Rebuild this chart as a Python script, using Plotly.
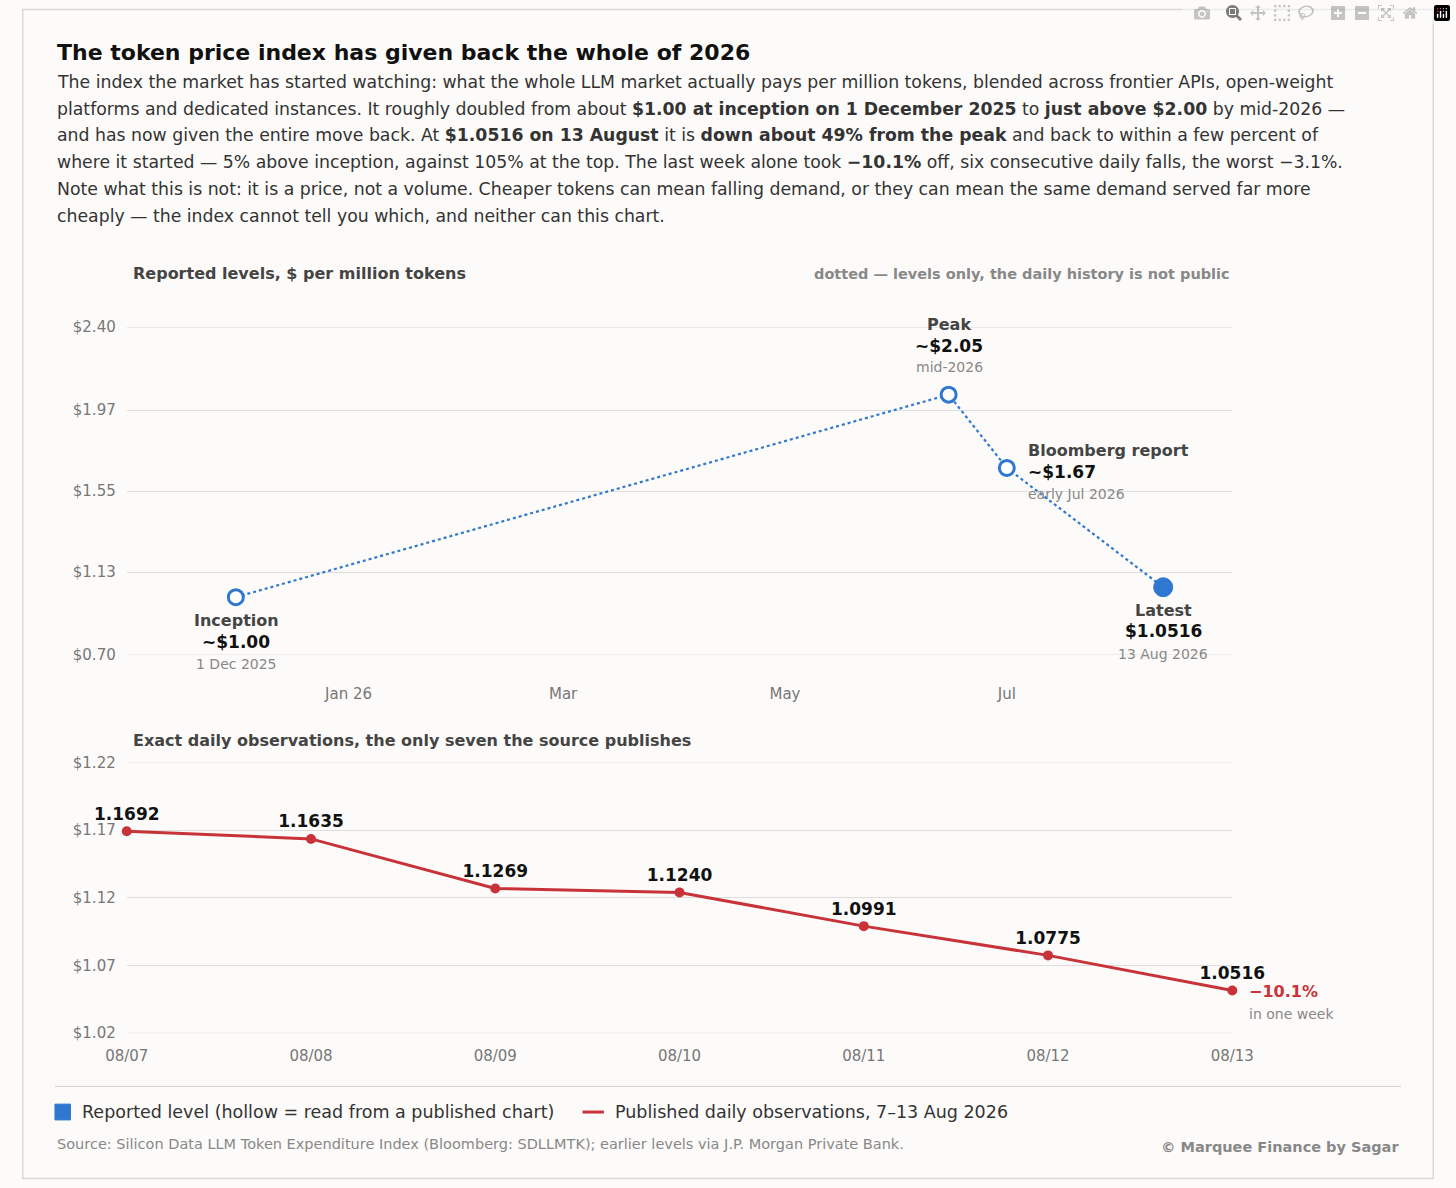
import plotly.graph_objects as go

W, H = 1456, 1188

# reported levels (top panel)
lvl_dates = ["2025-12-01", "2026-06-15", "2026-07-01", "2026-08-13"]
lvl_values = [1.00, 2.05, 1.67, 1.0516]
lvl_hollow = [True, True, True, False]

# daily observations (bottom panel)
day_labels = ["08/07", "08/08", "08/09", "08/10", "08/11", "08/12", "08/13"]
day_values = [1.1692, 1.1635, 1.1269, 1.1240, 1.0991, 1.0775, 1.0516]

top_ticks = [0.70, 1.13, 1.55, 1.97, 2.40]
bot_ticks = [1.02, 1.07, 1.12, 1.17, 1.22]

BLUE = "#2F77CF"
RED = "#C8333A"
FONT = "DejaVu Sans"


def px(x, y):
    return x / W, 1 - y / H


fig = go.Figure()

fig.add_trace(go.Scatter(
    x=lvl_dates, y=lvl_values, mode="lines", xaxis="x", yaxis="y",
    line=dict(color=BLUE, width=2.2, dash="dot"), showlegend=False, hoverinfo="skip"))
fig.add_trace(go.Scatter(
    x=[d for d, h in zip(lvl_dates, lvl_hollow) if h],
    y=[v for v, h in zip(lvl_values, lvl_hollow) if h],
    mode="markers", xaxis="x", yaxis="y", showlegend=False,
    marker=dict(size=15, color="white", line=dict(color=BLUE, width=3))))
fig.add_trace(go.Scatter(
    x=[d for d, h in zip(lvl_dates, lvl_hollow) if not h],
    y=[v for v, h in zip(lvl_values, lvl_hollow) if not h],
    mode="markers", xaxis="x", yaxis="y", showlegend=False,
    marker=dict(size=19, color=BLUE, line=dict(color=BLUE, width=1))))

fig.add_trace(go.Scatter(
    x=list(range(len(day_values))), y=day_values, mode="lines+markers+text",
    xaxis="x2", yaxis="y2", showlegend=False,
    line=dict(color=RED, width=3), marker=dict(size=10, color=RED),
    text=[f"{v:.4f}" for v in day_values], textposition="top center",
    textfont=dict(size=17, color="#111", family=FONT, weight="bold"),
    cliponaxis=False))

x0, x1 = px(108, 0)[0], px(1248, 0)[0]
axis_common = dict(showline=False, zeroline=False, ticks="",
                   tickfont=dict(size=15, color="#777"))
fig.update_layout(
    width=W, height=H, margin=dict(l=0, r=0, t=0, b=0),
    paper_bgcolor="#FCFBF9", plot_bgcolor="#FCFBF9",
    font=dict(family=FONT, color="#333"),
    xaxis=dict(domain=[x0, x1], range=["2025-11-01", "2026-09-01"],
               tickvals=["2026-01-01", "2026-03-01", "2026-05-01", "2026-07-01"],
               ticktext=["Jan 26", "Mar", "May", "Jul"], showgrid=False,
               ticklabelstandoff=28, **axis_common),
    yaxis=dict(domain=[1 - 656 / H, 1 - 323 / H], range=[0.70, 2.40],
               tickvals=top_ticks, ticktext=[f"${t:.2f}" for t in top_ticks],
               gridcolor="#DDDDDD", ticklabelstandoff=10, **axis_common),
    xaxis2=dict(domain=[x0, x1], range=[0, 6], anchor="y2",
                tickvals=list(range(7)), ticktext=day_labels, showgrid=False,
                ticklabelstandoff=12, **axis_common),
    yaxis2=dict(domain=[1 - 1040 / H, 1 - 765 / H], range=[1.02, 1.22], anchor="x2",
                tickvals=bot_ticks, ticktext=[f"${t:.2f}" for t in bot_ticks],
                gridcolor="#DDDDDD", ticklabelstandoff=10, **axis_common),
)

ann = []


def text(x, y, s, size=17, color="#333", xanchor="left"):
    ax, ay = px(x, y)
    ann.append(dict(x=ax, y=ay, xref="paper", yref="paper", text=s, showarrow=False,
                    xanchor=xanchor, yanchor="middle", align=xanchor,
                    font=dict(size=size, color=color, family=FONT)))


text(34, 44, "<b>The token price index has given back the whole of 2026</b>", 22, "#111")
body = [
    "The index the market has started watching: what the whole LLM market actually pays per million tokens, blended across frontier APIs, open-weight",
    "platforms and dedicated instances. It roughly doubled from about <b>$1.00 at inception on 1 December 2025</b> to <b>just above $2.00</b> by mid-2026 —",
    "and has now given the entire move back. At <b>$1.0516 on 13 August</b> it is <b>down about 49% from the peak</b> and back to within a few percent of",
    "where it started — 5% above inception, against 105% at the top. The last week alone took <b>−10.1%</b> off, six consecutive daily falls, the worst −3.1%.",
    "Note what this is not: it is a price, not a volume. Cheaper tokens can mean falling demand, or they can mean the same demand served far more",
    "cheaply — the index cannot tell you which, and neither can this chart.",
]
for i, line in enumerate(body):
    text(34, 74 + i * 27.2, line, 17.3, "#333")

text(112, 269, "<b>Reported levels, $ per million tokens</b>", 16, "#444")
text(1248, 269, "<b>dotted — levels only, the daily history is not public</b>", 14.5, "#888", "right")
text(112, 743, "<b>Exact daily observations, the only seven the source publishes</b>", 16, "#444")

# point labels, top panel
text(221, 621, "<b>Inception</b>", 16, "#444", "center")
text(221, 643, "<b>~$1.00</b>", 17, "#111", "center")
text(221, 665, "1 Dec 2025", 14, "#888", "center")
text(956, 320, "<b>Peak</b>", 16, "#444", "center")
text(956, 342, "<b>~$2.05</b>", 17, "#111", "center")
text(956, 364, "mid-2026", 14, "#888", "center")
text(1035, 448, "<b>Bloomberg report</b>", 16, "#444")
text(1035, 470, "<b>~$1.67</b>", 17, "#111")
text(1035, 492, "early Jul 2026", 14, "#888")
text(1177, 611, "<b>Latest</b>", 16, "#444", "center")
text(1177, 632, "<b>$1.0516</b>", 17, "#111", "center")
text(1177, 655, "13 Aug 2026", 14, "#888", "center")

text(1263, 998, "<b>−10.1%</b>", 16, RED)
text(1263, 1020, "in one week", 14, "#888")

# legend
text(60, 1120, "Reported level (hollow = read from a published chart)", 17.5, "#333")
text(609, 1120, "Published daily observations, 7–13 Aug 2026", 17.5, "#333")
text(34, 1152, "Source: Silicon Data LLM Token Expenditure Index (Bloomberg: SDLLMTK); earlier levels via J.P. Morgan Private Bank.", 14.5, "#888")
text(1422, 1156, "<b>© Marquee Finance by Sagar</b>", 14.5, "#888", "right")

shapes = [
    dict(type="rect", xref="paper", yref="paper", x0=0.0005, x1=0.9995, y0=0.0005, y1=0.9995,
         line=dict(color="#D8D8D8", width=1.5)),
    dict(type="line", xref="paper", yref="paper", x0=34 / W, x1=1422 / W,
         y0=1 - 1094 / H, y1=1 - 1094 / H, line=dict(color="#D0D0D0", width=1)),
    dict(type="rect", xref="paper", yref="paper", x0=34 / W, x1=50 / W,
         y0=1 - 1128 / H, y1=1 - 1112 / H, fillcolor=BLUE, line=dict(color=BLUE, width=1)),
    dict(type="line", xref="paper", yref="paper", x0=578 / W, x1=600 / W,
         y0=1 - 1120 / H, y1=1 - 1120 / H, line=dict(color=RED, width=3)),
]
# edge gridlines that plotly drops at the range limits
for ax, val in [("y", top_ticks[0]), ("y", top_ticks[-1]), ("y2", bot_ticks[0]), ("y2", bot_ticks[-1])]:
    xr = "x domain" if ax == "y" else "x2 domain"
    shapes.append(dict(type="line", xref=xr, yref=ax, x0=0, x1=1, y0=val, y1=val,
                       line=dict(color="#DDDDDD", width=1), layer="below"))

fig.update_layout(annotations=ann, shapes=shapes)
fig.write_html("out.html",
               post_script="document.body.style.margin='0';document.body.style.overflow='hidden';")
